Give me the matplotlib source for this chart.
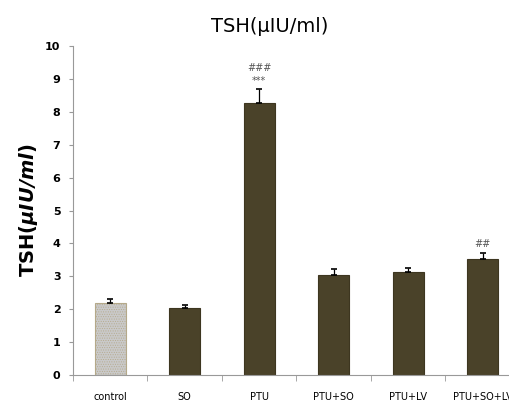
import numpy as np
import matplotlib.pyplot as plt
import matplotlib as mpl

mpl.rcParams['hatch.linewidth'] = 0.4
mpl.rcParams['mathtext.fontset'] = 'dejavusans'

groups = ['control', 'SO', 'PTU', 'PTU+SO', 'PTU+LV', 'PTU+SO+LV']
tsh = [2.2, 2.05, 8.27, 3.05, 3.12, 3.52]
sem = [0.12, 0.07, 0.43, 0.18, 0.12, 0.18]
marks = ['', '', '***', '', '', '']
marks2 = ['', '', '###', '', '', '##']

fig = plt.figure(figsize=(5.09, 4.07), dpi=100)
ax = fig.add_axes([0.1434, 0.0786, 0.878, 0.808])

x = np.arange(len(groups))
cols = ['#c9c9c9'] + ['#4a4229'] * 5
bars = ax.bar(x, tsh, width=0.42, color=cols, edgecolor=['#b5a98a'] + ['#3d3620'] * 5,
              linewidth=0.8, zorder=2)
bars[0].set_hatch('.......')
bars[0].set_edgecolor('#b5a98a')
ax.errorbar(x, tsh, yerr=[np.zeros(len(sem)), sem], fmt='none', ecolor='black',
            elinewidth=0.9, capsize=2.5, capthick=1.2, zorder=3)

for i in range(len(groups)):
    top = tsh[i] + sem[i]
    if marks[i]:
        ax.text(x[i], top + 0.1, marks[i], ha='center', va='bottom', fontsize=7, color='#555555')
        top += 0.35
    if marks2[i]:
        ax.text(x[i], top + 0.12, marks2[i], ha='center', va='bottom', fontsize=7, color='#555555')

ax.set_xlim(-0.5, len(groups) - 0.5)
ax.set_ylim(0, 10)
ax.set_yticks(range(0, 11))
ax.set_xticks(x)
ax.set_xticklabels(groups, fontsize=7)
ax.tick_params(axis='x', length=0, pad=12)
ax.set_xticks(np.arange(-0.5, len(groups)), minor=True)
ax.tick_params(axis='x', which='minor', length=4, color='#999999', direction='out')
ax.tick_params(axis='y', labelsize=8, length=3, color='#999999', pad=6)
for lab in ax.get_yticklabels():
    lab.set_fontweight('bold')

for s in ['top', 'right']:
    ax.spines[s].set_visible(False)
ax.spines['left'].set_color('#999999')
ax.spines['bottom'].set_color('#999999')

ax.set_title('TSH(µIU/ml)', fontsize=14, pad=10, x=0.44)
ax.set_ylabel(r'TSH($\mathbfit{\mu IU/ml}$)', fontsize=14, fontweight='bold', labelpad=4)

fig.savefig('out.png', dpi=100)
